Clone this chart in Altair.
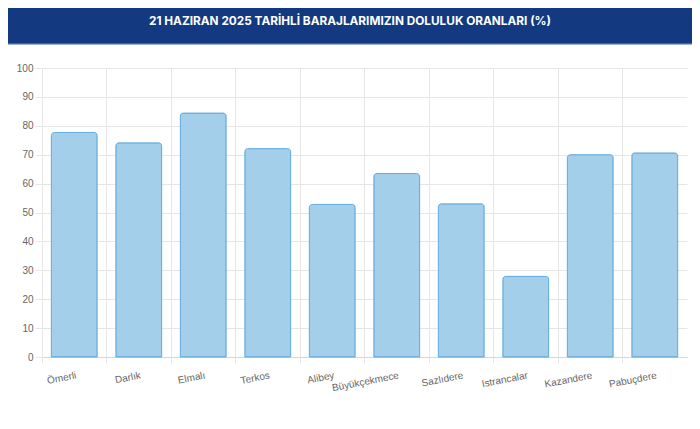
import altair as alt
import pandas as pd

dams = ["Ömerli", "Darlık", "Elmalı", "Terkos", "Alibey", "Büyükçekmece",
        "Sazlıdere", "Istrancalar", "Kazandere", "Pabuçdere"]
fill_pct = [77.7, 74.1, 84.4, 72.1, 52.8, 63.5, 53.0, 27.9, 70.0, 70.6]
y_ticks = [0, 10, 20, 30, 40, 50, 60, 70, 80, 90, 100]
title_text = "21 HAZIRAN 2025 TARİHLİ BARAJLARIMIZIN DOLULUK ORANLARI (%)"

df = pd.DataFrame({"baraj": dams, "oran": fill_pct})
one = pd.DataFrame({"t": [title_text]})

grid_c = "#e6e6e6"
lab_c = "#666666"

bars = alt.Chart(df).mark_bar(
    width=alt.RelativeBandSize(0.71),
    fill="#a4cfeb",
    stroke="#62acdf",
    strokeWidth=1,
    cornerRadiusTopLeft=3,
    cornerRadiusTopRight=3,
).encode(
    x=alt.X("baraj:N", sort=dams, title=None,
            scale=alt.Scale(paddingInner=0, paddingOuter=0),
            axis=alt.Axis(grid=True, gridColor=grid_c, bandPosition=0,
                          tickSize=6, tickColor=grid_c, domainColor="#d6d6d6",
                          labelOffset=1, labelAngle=349, labelAlign="right",
                          labelBaseline="top", labelPadding=7,
                          labelColor=lab_c, labelFont="Liberation Sans",
                          labelFontSize=10)),
    y=alt.Y("oran:Q", title=None,
            scale=alt.Scale(domain=[0, 100], nice=False),
            axis=alt.Axis(values=y_ticks, grid=True, gridColor=grid_c,
                          tickSize=7, tickColor=grid_c, domain=False,
                          labelPadding=2, labelColor=lab_c,
                          labelFont="Liberation Sans", labelFontSize=10)),
)

header = alt.Chart(one).mark_rect(color="#133a80").encode(
    x=alt.value(-34), x2=alt.value(650), y=alt.value(-60), y2=alt.value(-25)
)
header_line = alt.Chart(one).mark_rect(color="#3c66a8").encode(
    x=alt.value(-34), x2=alt.value(650), y=alt.value(-25), y2=alt.value(-23.5)
)
title = alt.Chart(one).mark_text(
    color="white", font="Inter", fontWeight="bold", fontSize=11.8,
    align="center", baseline="middle"
).encode(
    x=alt.value(308), y=alt.value(-47), text="t:N"
)

chart = alt.layer(header, header_line, title, bars).properties(
    width=645, height=289,
    autosize=alt.AutoSizeParams(type="none"),
    padding={"left": 34, "top": 60, "right": 5, "bottom": 64},
    background="white",
).configure_view(stroke=None)

chart.save("out.html", embed_options={"renderer": "svg", "actions": False})
